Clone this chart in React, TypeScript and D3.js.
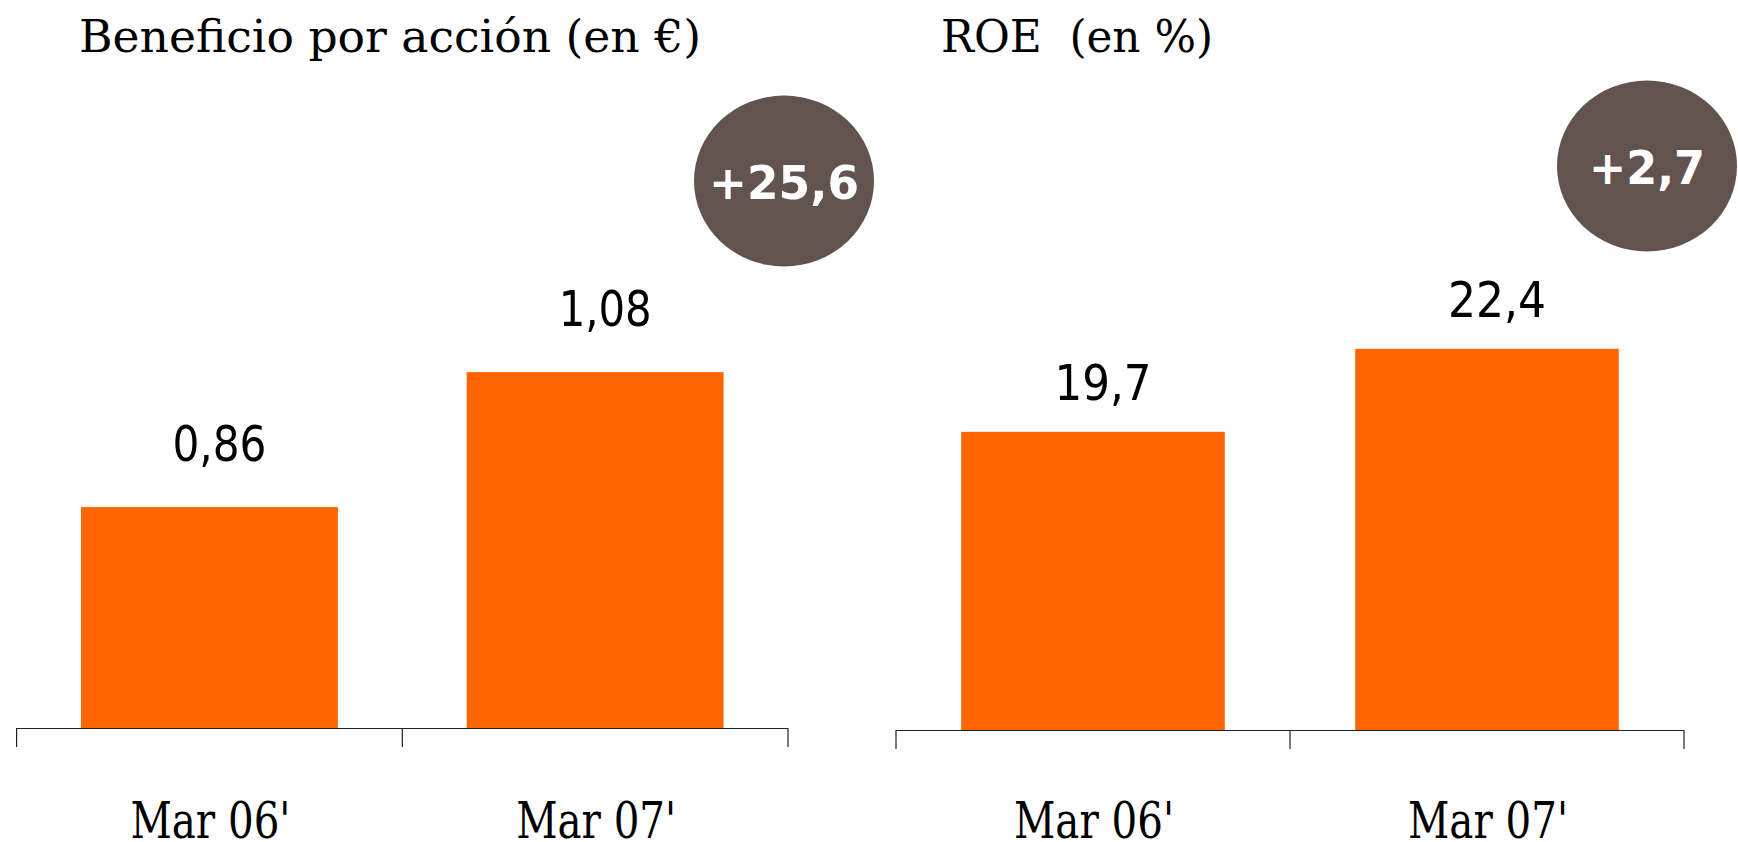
import React from "react";
import * as d3 from "d3";

const categories = ["Mar 06'", "Mar 07'"];
const epsValues = [0.86, 1.08];
const epsLabels = ["0,86", "1,08"];
const roeValues = [19.7, 22.4];
const roeLabels = ["19,7", "22,4"];
const epsTitle = "Beneficio por acción (en €)";
const roeTitle = "ROE\u00a0 (en %)";
const epsChange = "+25,6";
const roeChange = "+2,7";

const ORANGE = "#FF6600";
const BUBBLE = "#62534E";
const SLAB = "'DejaVu Serif Condensed', 'DejaVu Serif', serif";
const SANS = "'DejaVu Sans Condensed', 'DejaVu Sans', sans-serif";

type PanelProps = {
  title: string;
  titleX: number;
  titleW: number;
  values: number[];
  labels: string[];
  x0: number;
  x1: number;
  baseY: number;
  domain: [number, number];
  pxPerUnit: number;
  labelGap: number;
  labelWidths: number[];
  barFrac: number;
  change: string;
  bx: number;
  by: number;
  changeW: number;
};

function Panel(p: PanelProps) {
  const x = d3.scaleBand<string>().domain(categories).range([p.x0, p.x1]).padding(0);
  const bw = x.bandwidth();
  const barW = bw * p.barFrac;
  const y = d3
    .scaleLinear()
    .domain(p.domain)
    .range([p.baseY, p.baseY - p.pxPerUnit * (p.domain[1] - p.domain[0])]);
  const ticks = [...categories.map((c) => x(c) as number), p.x1];
  return (
    <g>
      <text
        x={p.titleX}
        y={52}
        fontFamily={SLAB}
        fontSize={45}
        textLength={p.titleW}
        lengthAdjust="spacingAndGlyphs"
        fill="#000"
        style={{ whiteSpace: "pre" }}
      >
        {p.title}
      </text>
      {categories.map((c, i) => {
        const bx = (x(c) as number) + (bw - barW) / 2;
        const top = y(p.values[i]);
        return (
          <g key={c}>
            <rect x={bx} y={top} width={barW} height={p.baseY - top} fill={ORANGE} />
            <text
              x={bx + barW / 2 + 10 - p.labelWidths[i] / 2}
              y={top - p.labelGap}
              fontFamily={SANS}
              fontSize={50}
              textLength={p.labelWidths[i]}
              lengthAdjust="spacingAndGlyphs"
              fill="#000"
            >
              {p.labels[i]}
            </text>
            <text
              x={(x(c) as number) + bw / 2 + 1 - 80}
              y={838}
              fontFamily={SLAB}
              fontSize={50}
              textLength={160}
              lengthAdjust="spacingAndGlyphs"
              fill="#000"
            >
              {c}
            </text>
          </g>
        );
      })}
      <line x1={p.x0} x2={p.x1} y1={p.baseY + 0.5} y2={p.baseY + 0.5} stroke="#222" strokeWidth={1.2} />
      {ticks.map((t, i) => (
        <line key={i} x1={t} x2={t} y1={p.baseY} y2={p.baseY + 19} stroke="#222" strokeWidth={1.2} />
      ))}
      <ellipse cx={p.bx} cy={p.by} rx={90} ry={85.5} fill={BUBBLE} />
      <text
        x={p.bx - p.changeW / 2}
        y={p.by + 18}
        fontFamily={SANS}
        fontWeight="bold"
        fontSize={46}
        textLength={p.changeW}
        lengthAdjust="spacingAndGlyphs"
        fill="#fff"
      >
        {p.change}
      </text>
    </g>
  );
}

export default function App() {
  return (
    <svg
      width={1738}
      height={842}
      style={{ position: "fixed", left: 0, top: 0, background: "#fff" }}
    >
      <Panel
        title={epsTitle}
        titleX={79}
        titleW={622}
        values={epsValues}
        labels={epsLabels}
        x0={16.6}
        x1={788}
        baseY={728}
        domain={[0.5, 1.5]}
        pxPerUnit={613.6}
        labelGap={46}
        labelWidths={[94, 93]}
        barFrac={0.666}
        change={epsChange}
        bx={784}
        by={181}
        changeW={150}
      />
      <Panel
        title={roeTitle}
        titleX={941}
        titleW={272}
        values={roeValues}
        labels={roeLabels}
        x0={896}
        x1={1684}
        baseY={730}
        domain={[10, 30]}
        pxPerUnit={30.74}
        labelGap={31.5}
        labelWidths={[97, 98]}
        barFrac={0.669}
        change={roeChange}
        bx={1647}
        by={166}
        changeW={116}
      />
    </svg>
  );
}
